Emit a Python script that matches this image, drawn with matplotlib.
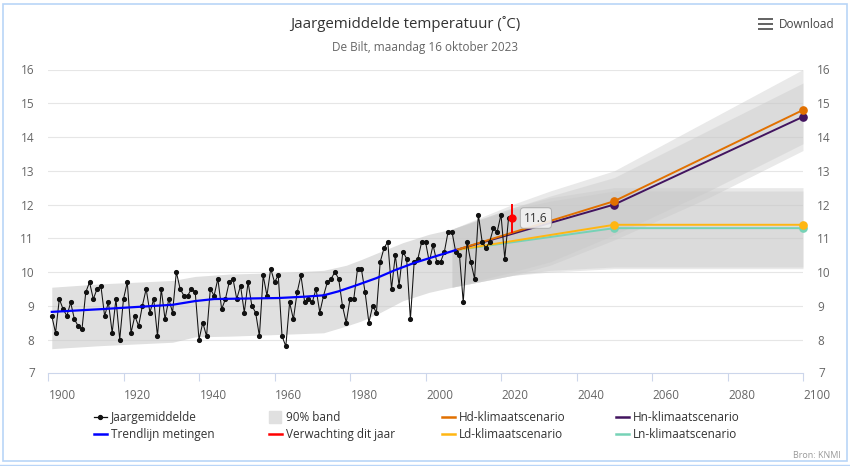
import matplotlib
matplotlib.use("Agg")
import matplotlib.pyplot as plt
from matplotlib.lines import Line2D
from matplotlib.patches import Rectangle
from matplotlib.transforms import ScaledTranslation

plt.rcParams['font.family'] = ['Open Sans', 'DejaVu Sans']

years = list(range(1901, 2023))
annual = [8.7, 8.2, 9.2, 8.9, 8.7, 9.1, 8.6, 8.4, 8.3, 9.4,
          9.7, 9.2, 9.5, 9.6, 8.7, 9.1, 8.2, 9.2, 8.0, 9.2,
          9.7, 8.2, 8.7, 8.4, 9.0, 9.5, 8.8, 9.2, 8.1, 9.5,
          8.6, 9.2, 8.8, 10.0, 9.5, 9.3, 9.3, 9.5, 9.4, 8.0,
          8.5, 8.1, 9.5, 9.3, 9.8, 8.9, 9.2, 9.7, 9.8, 9.2,
          9.6, 8.8, 9.7, 9.0, 8.8, 8.1, 9.9, 9.3, 10.1, 9.7,
          9.9, 8.1, 7.8, 9.1, 8.6, 9.4, 9.9, 9.1, 9.2, 9.1,
          9.5, 8.8, 9.3, 9.7, 9.8, 10.0, 9.8, 9.0, 8.5, 9.2,
          9.2, 10.1, 10.1, 9.4, 8.5, 9.0, 8.8, 10.3, 10.7, 10.9,
          9.5, 10.5, 9.6, 10.6, 10.4, 8.6, 10.3, 10.4, 10.9, 10.9,
          10.3, 10.8, 10.3, 10.3, 10.6, 11.2, 11.2, 10.6, 10.5, 9.1,
          10.9, 10.3, 9.8, 11.7, 10.9, 10.7, 10.9, 11.3, 11.2, 11.7,
          10.4, 11.6]

trend_x = [1901, 1914, 1933, 1939, 1944, 1961, 1968, 1973, 1977, 1982, 1987, 1992, 1997, 2001, 2008]
trend_y = [8.82, 8.90, 9.03, 9.14, 9.20, 9.23, 9.27, 9.31, 9.43, 9.62, 9.82, 10.06, 10.27, 10.41, 10.65]

band_x = [1901, 1914, 1933, 1939, 1948, 1961, 1973, 1979, 1983, 1988, 1994, 2001, 2007]
band_hi = [9.55, 9.65, 9.75, 9.87, 9.94, 9.98, 10.05, 10.2, 10.37, 10.6, 10.87, 11.12, 11.27]
band_lo = [7.73, 7.82, 7.92, 8.08, 8.10, 8.15, 8.20, 8.40, 8.55, 8.80, 9.15, 9.40, 9.55]

scen_x = [2007, 2023, 2033, 2050, 2075, 2100]
hd_hi = [11.27, 12.0, 12.4, 13.0, 14.5, 16.0]
hd_lo = [9.55, 10.0, 10.3, 11.1, 12.4, 13.8]
hn_hi = [11.27, 11.9, 12.25, 12.8, 14.2, 15.6]
hn_lo = [9.55, 9.9, 10.2, 10.95, 12.2, 13.6]
ld_hi = [11.27, 11.9, 12.2, 12.5, 12.5, 12.5]
ld_lo = [9.55, 9.9, 10.05, 10.15, 10.15, 10.15]
ln_hi = [11.27, 11.85, 12.1, 12.4, 12.4, 12.4]
ln_lo = [9.55, 9.9, 10.0, 10.1, 10.1, 10.1]

point_x = [2008, 2050, 2100]
hd = [10.65, 12.1, 14.8]
hn = [10.65, 12.0, 14.6]
ld = [10.65, 11.4, 11.4]
ln = [10.65, 11.3, 11.3]

this_year = 2023
this_value = 11.6
this_range = [11.2, 12.0]

xticks = list(range(1900, 2101, 20))
yticks = list(range(7, 17))

W, H = 850, 466
fig = plt.figure(figsize=(W / 100, H / 100), dpi=100, facecolor='white')
ax = fig.add_axes([48 / W, 1 - 373.3 / H, 755 / W, 303.8 / H])
ax.set_xlim(1900, 2100)
ax.set_ylim(7, 16)

for s in ('top', 'left', 'right'):
    ax.spines[s].set_visible(False)
ax.spines['bottom'].set_color('#ccd6eb')
ax.spines['bottom'].set_linewidth(0.8)
ax.set_axisbelow(True)
ax.grid(axis='y', color='#e6e6e6', lw=0.8)
ax.set_xticks(xticks)
ax.set_yticks(yticks[1:])
ax.set_yticklabels([str(v) for v in yticks[1:]])
ax.tick_params(axis='x', length=6, width=0.8, color='#ccd6eb', labelcolor='#666666', labelsize=8.5, pad=5)
ax.tick_params(axis='y', length=0, labelcolor='#666666', labelsize=8.5, labelright=True, pad=10)
shift = ScaledTranslation(14 / 100, 0, fig.dpi_scale_trans)
for t in ax.get_xticklabels():
    t.set_transform(t.get_transform() + shift)
ax.text(0, 0, str(yticks[0]), transform=ax.transAxes + ScaledTranslation(-16 / 100, 0, fig.dpi_scale_trans),
        ha='center', va='center', color='#666666', fontsize=8.5)
ax.text(1, 0, str(yticks[0]), transform=ax.transAxes + ScaledTranslation(19 / 100, 0, fig.dpi_scale_trans),
        ha='center', va='center', color='#666666', fontsize=8.5)

ax.fill_between(band_x, band_lo, band_hi, color='#c8c8c8', alpha=0.56, lw=0, zorder=1.5)
for lo, hi in ((hd_lo, hd_hi), (hn_lo, hn_hi), (ld_lo, ld_hi), (ln_lo, ln_hi)):
    ax.fill_between(scen_x, lo, hi, color='#c8c8c8', alpha=0.4, lw=0, zorder=1.6)

ax.plot(years, annual, color='#111111', lw=0.75, marker='o', ms=2.7, zorder=4)
ax.plot(trend_x, trend_y, color='#0000ff', lw=1.6, zorder=5)

for vals, col in ((ln, '#76d2b6'), (ld, '#ffb612'), (hn, '#42145f'), (hd, '#e17000')):
    ax.plot(point_x, vals, color=col, lw=1.4, zorder=3.5)
    ax.plot(point_x[1:], vals[1:], ls='', marker='o', ms=5.2, color=col, zorder=6, clip_on=False)

ax.plot([this_year, this_year], this_range, color='#ff0000', lw=1.4, zorder=6)
ax.plot([this_year], [this_value], marker='o', ms=5, color='#ff0000', zorder=6)
ax.annotate(f'{this_value}', xy=(this_year, this_value), xytext=(17, 0), textcoords='offset points',
            ha='center', va='center', fontsize=8.5, color='#333333', zorder=8,
            bbox=dict(boxstyle='round,pad=0.32,rounding_size=0.3', fc='#f2f2f2', ec='#aaaaaa', lw=0.7, alpha=0.9))

fig.text(405 / W, 1 - 24 / H, 'Jaargemiddelde temperatuur (˚C)', ha='center', va='center', fontsize=10.8, color='#333333')
fig.text(425 / W, 1 - 48 / H, 'De Bilt, maandag 16 oktober 2023', ha='center', va='center', fontsize=8.5, color='#666666')
fig.text(834 / W, 1 - 25 / H, 'Download', ha='right', va='center', fontsize=8.5, color='#444444')
fig.text(841 / W, 1 - 456 / H, 'Bron: KNMI', ha='right', va='center', fontsize=6.5, color='#999999')

for py in (19, 24, 29):
    fig.add_artist(Rectangle((757.5 / W, 1 - (py + 1.2) / H), 15.5 / W, 2.4 / H, transform=fig.transFigure,
                             fc='#666666', ec='none'))

frame = '#b9d5f7'
fig.add_artist(Rectangle((2.5 / W, 1 - 461 / H), 844 / W, 457 / H, transform=fig.transFigure, fc='none', ec=frame, lw=1.2))
fig.add_artist(Line2D([0, 1], [1 - 465 / H] * 2, transform=fig.transFigure, color=frame, lw=1.0))

col_x = [94, 269, 442, 616]
legend_cols = [
    [Line2D([], [], color='#111111', lw=0.9, marker='o', ms=2.8), Line2D([], [], color='#0000ff', lw=1.8)],
    [Line2D([], [], ls='', marker='s', ms=8.5, color='#e0e0e0'), Line2D([], [], color='#ff0000', lw=1.8)],
    [Line2D([], [], color='#e17000', lw=1.8), Line2D([], [], color='#ffb612', lw=1.8)],
    [Line2D([], [], color='#42145f', lw=1.8), Line2D([], [], color='#76d2b6', lw=1.8)],
]
legend_labels = [
    ['Jaargemiddelde', 'Trendlijn metingen'],
    ['90% band', 'Verwachting dit jaar'],
    ['Hd-klimaatscenario', 'Ld-klimaatscenario'],
    ['Hn-klimaatscenario', 'Ln-klimaatscenario'],
]
for x0, h, l in zip(col_x, legend_cols, legend_labels):
    fig.legend(h, l, loc='upper left', bbox_to_anchor=(x0 / W, 1 - 411 / H), frameon=False, fontsize=8.5,
               handlelength=1.1, handletextpad=0.35, labelspacing=0.37, borderpad=0, borderaxespad=0,
               labelcolor='#333333')

fig.savefig('out.png', dpi=100)
